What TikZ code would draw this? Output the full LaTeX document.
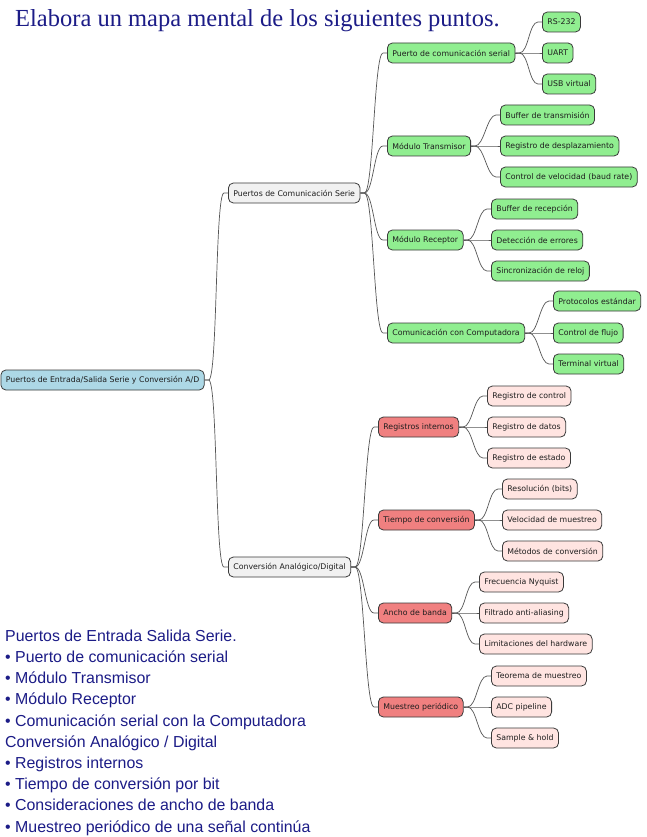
\documentclass[tikz,border=0pt]{standalone}
\usepackage{fontspec}
\setmainfont{DejaVu Sans}
\newfontfamily\titlefont{Liberation Serif}
\newfontfamily\listfont{Liberation Sans}
\definecolor{rootc}{HTML}{ADD8E6}
\definecolor{grayc}{HTML}{F1F1F1}
\definecolor{greenc}{HTML}{90EE90}
\definecolor{redc}{HTML}{F08080}
\definecolor{pinkc}{HTML}{FFE4E1}
\definecolor{boxline}{HTML}{3A3A3A}
\definecolor{linec}{HTML}{555555}
\definecolor{txt}{HTML}{1E1E1E}
\definecolor{navy}{RGB}{28,28,135}
\newcommand\mmconn[2]{\draw[conn] (#1.east) -- ++(4,0) .. controls +(9,0) and +(-9,0) .. ([xshift=-4pt]#2.west) -- (#2.west);}
\begin{document}
\begin{tikzpicture}[x=1pt,y=-1pt,
  box/.style={draw=boxline, line width=0.8pt, rounded corners=5pt, minimum height=20pt,
    inner xsep=5pt, inner ysep=0pt, font=\fontsize{7.8}{9}\selectfont, text=txt, anchor=west},
  rootn/.style={box, fill=rootc},
  lone/.style={box, fill=grayc},
  gn/.style={box, fill=greenc},
  rd/.style={box, fill=redc},
  pk/.style={box, fill=pinkc},
  conn/.style={draw=linec, line width=0.7pt}]
\useasboundingbox (0,0) rectangle (646,837);
\fill[white] (0,0) rectangle (646,837);

\node[anchor=base west, font=\titlefont\fontsize{24.5}{28}\selectfont, text=navy, inner sep=0pt] (title) at (15,27) {Elabora un mapa mental de los siguientes puntos.};

\node[rootn] (root) at (0.5,380) {Puertos de Entrada/Salida Serie y Conversión A/D};

\node[lone] (pcs) at (228,193) {Puertos de Comunicación Serie};
\node[lone] (cad) at (228,567) {Conversión Analógico/Digital};

\node[gn] (pc) at (387,53) {Puerto de comunicación serial};
\node[gn] (mt) at (387,146) {Módulo Transmisor};
\node[gn] (mr) at (387,240) {Módulo Receptor};
\node[gn] (cc) at (387,333) {Comunicación con Computadora};

\node[gn] (rs) at (542,22) {RS-232};
\node[gn] (ua) at (542,53) {UART};
\node[gn] (usb) at (542,84) {USB virtual};
\node[gn] (bt) at (500,115) {Buffer de transmisión};
\node[gn] (rdz) at (500,146) {Registro de desplazamiento};
\node[gn] (cv) at (500,177) {Control de velocidad (baud rate)};
\node[gn] (br) at (491,209) {Buffer de recepción};
\node[gn] (de) at (491,240) {Detección de errores};
\node[gn] (sr) at (491,271) {Sincronización de reloj};
\node[gn] (pe) at (553,301) {Protocolos estándar};
\node[gn] (cf) at (553,333) {Control de flujo};
\node[gn] (tv) at (553,364) {Terminal virtual};

\node[rd] (ri) at (378,427) {Registros internos};
\node[rd] (tc) at (378,520) {Tiempo de conversión};
\node[rd] (ab) at (378,613) {Ancho de banda};
\node[rd] (mp) at (378,707) {Muestreo periódico};

\node[pk] (rc) at (487,396) {Registro de control};
\node[pk] (rdd) at (487,427) {Registro de datos};
\node[pk] (re) at (487,458) {Registro de estado};
\node[pk] (rb) at (502,489) {Resolución (bits)};
\node[pk] (vm) at (502,520) {Velocidad de muestreo};
\node[pk] (mc) at (502,551) {Métodos de conversión};
\node[pk] (fn) at (479,582) {Frecuencia Nyquist};
\node[pk] (fa) at (479,613) {Filtrado anti-aliasing};
\node[pk] (lh) at (479,644) {Limitaciones del hardware};
\node[pk] (tm) at (491,676) {Teorema de muestreo};
\node[pk] (adc) at (491,707) {ADC pipeline};
\node[pk] (sh) at (491,738) {Sample \& hold};

\mmconn{root}{pcs}
\mmconn{root}{cad}
\mmconn{pcs}{pc}
\mmconn{pcs}{mt}
\mmconn{pcs}{mr}
\mmconn{pcs}{cc}
\mmconn{pc}{rs}
\mmconn{pc}{ua}
\mmconn{pc}{usb}
\mmconn{mt}{bt}
\mmconn{mt}{rdz}
\mmconn{mt}{cv}
\mmconn{mr}{br}
\mmconn{mr}{de}
\mmconn{mr}{sr}
\mmconn{cc}{pe}
\mmconn{cc}{cf}
\mmconn{cc}{tv}
\mmconn{cad}{ri}
\mmconn{cad}{tc}
\mmconn{cad}{ab}
\mmconn{cad}{mp}
\mmconn{ri}{rc}
\mmconn{ri}{rdd}
\mmconn{ri}{re}
\mmconn{tc}{rb}
\mmconn{tc}{vm}
\mmconn{tc}{mc}
\mmconn{ab}{fn}
\mmconn{ab}{fa}
\mmconn{ab}{lh}
\mmconn{mp}{tm}
\mmconn{mp}{adc}
\mmconn{mp}{sh}

\node[anchor=north west, align=left, inner sep=0pt, text=navy,
  font=\listfont\fontsize{15.9}{21.2}\selectfont] (list) at (5,629.5) {Puertos de Entrada Salida Serie.\\
• Puerto de comunicación serial\\
• Módulo Transmisor\\
• Módulo Receptor\\
• Comunicación serial con la Computadora\\
Conversión Analógico / Digital\\
• Registros internos\\
• Tiempo de conversión por bit\\
• Consideraciones de ancho de banda\\
• Muestreo periódico de una señal continúa};
\end{tikzpicture}
\end{document}
